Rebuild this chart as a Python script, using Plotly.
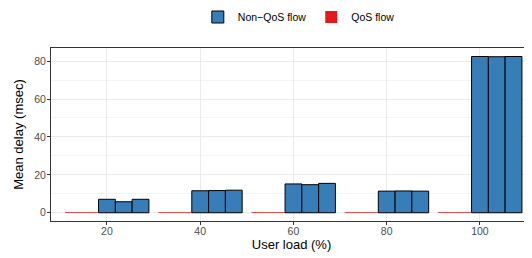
import plotly.graph_objects as go

categories = ["20", "40", "60", "80", "100"]
qos_1 = [0.4, 0.4, 0.4, 0.4, 0.4]
qos_2 = [0.4, 0.4, 0.4, 0.4, 0.4]
nonqos_1 = [7.1, 11.6, 15.2, 11.4, 82.4]
nonqos_2 = [5.8, 11.7, 14.8, 11.5, 82.3]
nonqos_3 = [7.1, 11.9, 15.5, 11.4, 82.4]

RED = "#E41A1C"
BLUE = "#377EB8"

pos = list(range(1, len(categories) + 1))

fig = go.Figure()
series = [
    ("QoS flow", qos_1, RED, True, "rgba(0,0,0,0)"),
    ("QoS flow", qos_2, RED, False, "rgba(0,0,0,0)"),
    ("Non\u2212QoS flow", nonqos_1, BLUE, True, "black"),
    ("Non\u2212QoS flow", nonqos_2, BLUE, False, "black"),
    ("Non\u2212QoS flow", nonqos_3, BLUE, False, "black"),
]
for name, vals, col, show, lc in series:
    fig.add_trace(go.Bar(
        x=pos, y=vals, name=name, legendgroup=name, showlegend=show,
        marker=dict(color=col, line=dict(color=lc, width=1)),
    ))

fig.update_layout(
    width=524, height=250,
    barmode="group", bargap=0.1, bargroupgap=0,
    margin=dict(l=43, r=0, t=40, b=37, autoexpand=False),
    plot_bgcolor="white", paper_bgcolor="white",
    font=dict(family="Liberation Sans, Arial, sans-serif", size=10, color="black"),
    legend=dict(orientation="h", xref="container", yref="container",
                x=0.555, xanchor="center", y=0.964, yanchor="middle",
                traceorder="reversed", font=dict(size=10.5), itemclick=False,
                itemwidth=30, tracegroupgap=0),
    xaxis=dict(
        range=[0.4, 5.558], tickvals=pos, ticktext=categories,
        showgrid=True, gridcolor="#EBEBEB", gridwidth=1,
        ticks="outside", ticklen=3, tickcolor="#333333",
        tickfont=dict(size=10.5, color="#4D4D4D"), ticklabelstandoff=-3,
        showline=True, linecolor="#333333", linewidth=1, mirror=True,
        title=dict(text="User load (%)", font=dict(size=13), standoff=0),
        zeroline=False, automargin=False,
    ),
    yaxis=dict(
        range=[-4.35, 86.9], tickvals=[0, 20, 40, 60, 80],
        showgrid=True, gridcolor="#EBEBEB", gridwidth=1,
        minor=dict(tickvals=[10, 30, 50, 70], showgrid=True, gridcolor="#F4F4F4", ticks=""),
        ticks="outside", ticklen=3, tickcolor="#333333",
        tickfont=dict(size=10.5, color="#4D4D4D"), ticklabelstandoff=-1,
        showline=True, linecolor="#333333", linewidth=1, mirror=True,
        title=dict(text="Mean delay (msec)", font=dict(size=13), standoff=7),
        zeroline=False, automargin=False,
    ),
)

fig.write_html("out.html")
